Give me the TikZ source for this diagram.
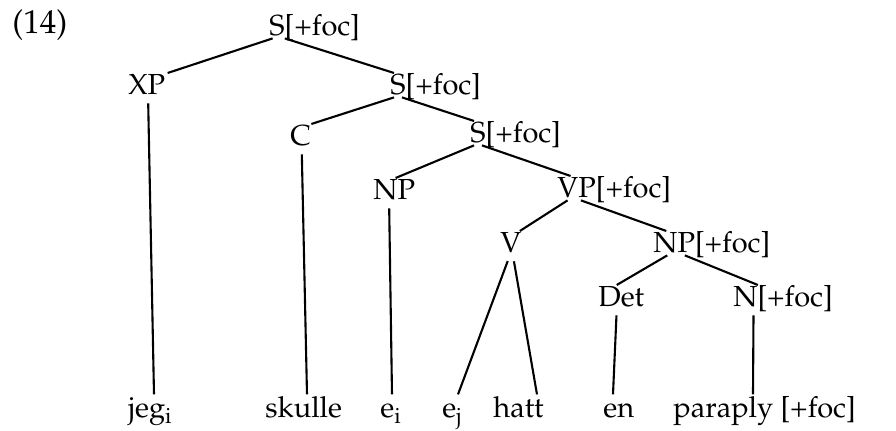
\documentclass[tikz,border=0pt]{standalone}
\usepackage[T1]{fontenc}
\usepackage{mathpazo}
\usetikzlibrary{calc}
\begin{document}
\begin{tikzpicture}[x=0.5pt,y=-0.5pt,
  every node/.style={font=\fontsize{14.5}{17}\selectfont, inner sep=1pt},
  cat/.style={anchor=base west, text height=9.8pt, text depth=0pt},
  leaf/.style={anchor=base west, text height=10.6pt, text depth=0pt},
  branch/.style={line width=1.05pt},
  drop/.style={line width=1.05pt, shorten <=3pt}]
\useasboundingbox (0,0) rectangle (896,431);

% example number
\node[anchor=base west, font=\fontsize{16.5}{19}\selectfont] (ex) at (10,34) {(14)};

% category nodes (head label boxed, feature set hangs to the right)
\node[cat] (s1)  at (267,36)  {S\rlap{[+foc]}};
\node[cat] (xp)  at (126,95)  {XP};
\node[cat] (s2)  at (388,95)  {S\rlap{[+foc]}};
\node[cat] (c)   at (288,146) {C};
\node[cat] (s3)  at (468,143) {S\rlap{[+foc]}};
\node[cat] (np1) at (371,200) {NP};
\node[cat] (vp)  at (555,198) {VP\rlap{[+foc]}};
\node[cat] (v)   at (498,253) {V};
\node[cat] (np2) at (651,253) {NP\rlap{[+foc]}};
\node[cat] (det) at (596,307) {Det};
\node[cat] (n)   at (731,307) {N\rlap{[+foc]}};

% terminal words
\node[leaf] (jeg)     at (126,418) {jeg\rlap{\textsubscript{i}}};
\node[leaf] (skulle)  at (263,418) {skulle};
\node[leaf] (ei)      at (378,418) {e\rlap{\textsubscript{i}}};
\node[leaf] (ej)      at (440,418) {e\rlap{\textsubscript{j}}};
\node[leaf] (hatt)    at (491,418) {hatt};
\node[leaf] (en)      at (601,418) {en};
\node[leaf] (paraply) at (671,418) {paraply [+foc]};

% branches
\draw[branch] ($(s1.south west)!0.28!(s1.south east)$) -- (xp.north east);
\draw[branch] ($(s1.south west)!0.89!(s1.south east)$) -- ($(s2.north west)!0.3!(s2.north east)$);
\draw[branch] ($(s2.south west)!0.3!(s2.south east)$) -- ($(c.north west)!0.92!(c.north east)$);
\draw[branch] ($(s2.south west)!0.7!(s2.south east)$) -- ($(s3.north west)!0.3!(s3.north east)$);
\draw[branch] ($(s3.south west)!0.3!(s3.south east)$) -- ($(np1.north west)!0.53!(np1.north east)$);
\draw[branch] ($(s3.south west)!0.7!(s3.south east)$) -- ($(vp.north west)!0.36!(vp.north east)$);
\draw[branch] ($(vp.south west)!0.29!(vp.south east)$) -- ($(v.north west)!0.85!(v.north east)$);
\draw[branch] ($(vp.south west)!0.6!(vp.south east)$) -- ($(np2.north west)!0.33!(np2.north east)$);
\draw[branch] ($(np2.south west)!0.35!(np2.south east)$) -- ($(det.north west)!0.41!(det.north east)$);
\draw[branch] ($(np2.south west)!0.73!(np2.south east)$) -- ($(n.north west)!0.93!(n.north east)$);

% lines down to the words
\draw[drop] ($(xp.south west)!0.53!(xp.south east)$) -- ($(jeg.north west)+(28,0)$);
\draw[drop] ($(c.south west)!0.54!(c.south east)$) -- ($(skulle.north west)+(44,0)$);
\draw[drop] ($(np1.south west)!0.39!(np1.south east)$) -- ($(ei.north west)+(14,0)$);
\draw[drop] ($(v.south west)!0.46!(v.south east)$) -- ($(ej.north west)+(18,0)$);
\draw[drop] ($(v.south west)!0.58!(v.south east)$) -- ($(hatt.north west)+(46,0)$);
\draw[drop] ($(det.south west)!0.41!(det.south east)$) -- ($(en.north west)+(12,0)$);
\draw[drop] ($(n.south west)!0.78!(n.south east)$) -- ($(paraply.north west)+(82,0)$);
\end{tikzpicture}
\end{document}
